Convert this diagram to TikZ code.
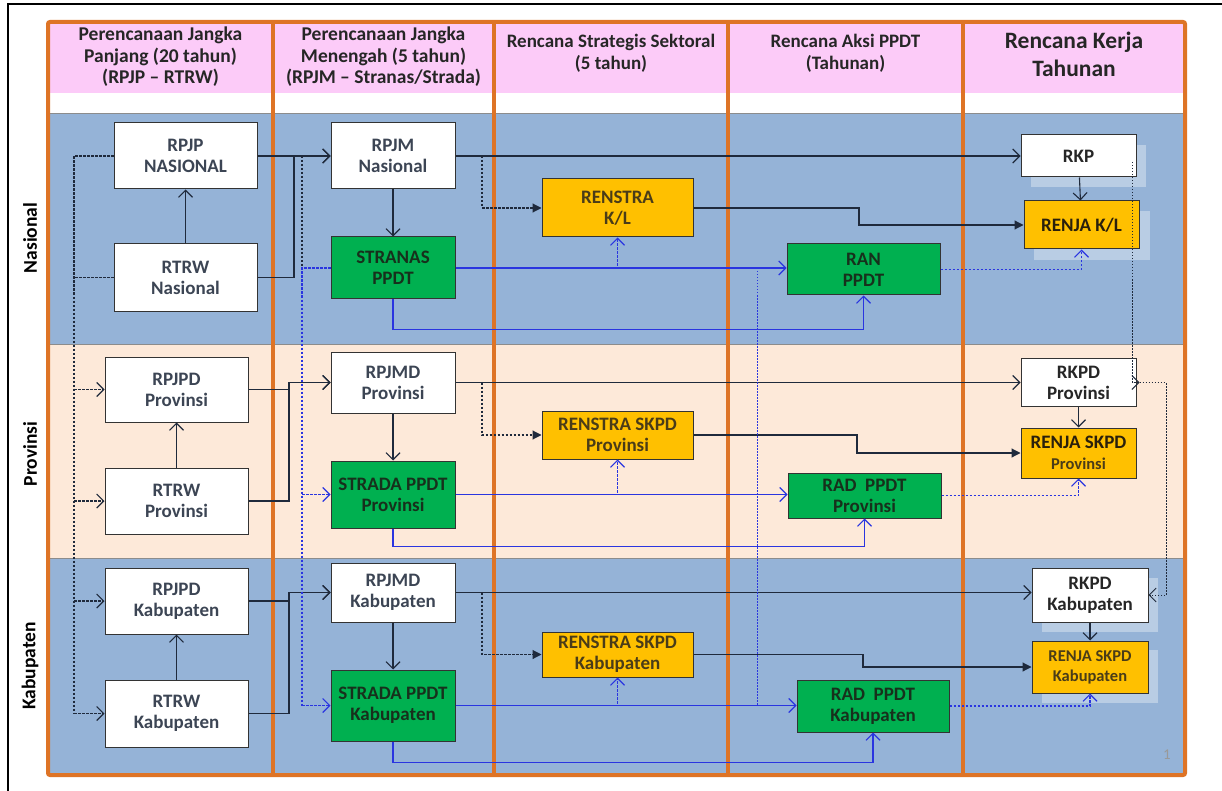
\documentclass[tikz,border=0pt]{standalone}
\usepackage{fontspec}
\setmainfont{Carlito}
\usetikzlibrary{arrows.meta}
\definecolor{rowblue}{HTML}{95B3D7}
\definecolor{rowpeach}{HTML}{FDE9D9}
\definecolor{hdrpink}{HTML}{FCCBF8}
\definecolor{frameor}{HTML}{DE7426}
\definecolor{boxgreen}{HTML}{00B050}
\definecolor{boxgold}{HTML}{FFC000}
\definecolor{lnk}{HTML}{1F2A3C}
\definecolor{lblue}{HTML}{2A35E0}
\definecolor{txtgray}{HTML}{3C4554}
\definecolor{txtgreen}{HTML}{17301C}
\definecolor{txtgold}{HTML}{4A3C18}
\definecolor{txtgold2}{HTML}{2A200C}
\definecolor{hdrtxt}{HTML}{262626}
\begin{document}
\begin{tikzpicture}[x=1pt,y=-1pt,
  box/.style={draw=black!80, line width=1pt, inner sep=1pt, align=center,
    font=\bfseries\fontsize{19}{21}\selectfont, text=txtgray},
  wbox/.style={box, fill=white},
  gbox/.style={box, fill=boxgreen, text=txtgreen},
  ybox/.style={box, fill=boxgold, text=txtgold},
  shbox/.style={fill=white, fill opacity=0.35, draw=none},
  hdr/.style={align=center, text=hdrtxt, font=\bfseries\fontsize{19.5}{21.5}\selectfont},
  rowlbl/.style={rotate=90, text=black, font=\bfseries\fontsize{19.5}{21}\selectfont},
  blk/.style={draw=lnk, line width=1.1pt},
  blu/.style={draw=lblue, line width=1.1pt},
  dsh/.style={dash pattern=on 2.5pt off 1.5pt},
  dots/.style={dash pattern=on 1.5pt off 1.5pt, line width=0.9pt},
  oa/.style={-{Straight Barb[length=7pt,width=14pt]}},
  fa/.style={-{Triangle[length=9pt,width=9pt]}}
]
\useasboundingbox (0,0) rectangle (1222,791);
% outer black frame (top and left)
\draw[line width=1.5pt] (8,791) -- (8,4) -- (1222,4);
% backgrounds
\fill[hdrpink] (48,22) rectangle (1185,93);
\fill[white] (48,93) rectangle (1185,113);
\fill[rowblue] (48,113) rectangle (1185,344);
\fill[rowpeach] (48,344) rectangle (1185,558);
\fill[rowblue] (48,558) rectangle (1185,775);
\draw[line width=0.8pt, draw=black!45] (48,113) -- (1185,113);
\draw[line width=0.8pt, draw=black!45] (48,344) -- (1185,344);
\draw[line width=0.8pt, draw=black!45] (48,558) -- (1185,558);
% orange frame
\draw[frameor, line width=4pt, rounded corners=2pt] (48,22) rectangle (1185,775);
\foreach \cx in {273,494,728,963} \draw[frameor, line width=4pt] (\cx,22) -- (\cx,775);
% headers
\node[hdr] (h1) at (160.5,57) {Perencanaan Jangka\\Panjang (20 tahun)\\(RPJP -- RTRW)};
\node[hdr] (h2) at (383.5,57) {Perencanaan Jangka\\Menengah (5 tahun)\\(RPJM -- Stranas/Strada)};
\node[hdr, font=\bfseries\fontsize{19}{22}\selectfont] (h3) at (611,53) {Rencana Strategis Sektoral\\(5 tahun)};
\node[hdr, font=\bfseries\fontsize{19}{22}\selectfont] (h4) at (845.5,53) {Rencana Aksi PPDT\\(Tahunan)};
\node[hdr, font=\bfseries\fontsize{23.5}{28}\selectfont] (h5) at (1074,54) {Rencana Kerja\\Tahunan};
% row labels
\node[rowlbl] (lnas) at (30,238) {Nasional};
\node[rowlbl] (lprov) at (30,454) {Provinsi};
\node[rowlbl] (lkab) at (30,666) {Kabupaten};
\node[text=black!40, font=\fontsize{15}{15}\selectfont] (pg) at (1167,755) {1};
% shadows in last column
\fill[shbox] (1031,145) rectangle (1146,187);
\fill[shbox] (1034,211) rectangle (1150,260);
\fill[shbox] (1042,578) rectangle (1158,632);
\fill[shbox] (1042,650) rectangle (1158,703);
% column 1
\node[wbox, minimum width=143pt, minimum height=66pt] (rpjp) at (185.5,156) {RPJP\\NASIONAL};
\node[wbox, minimum width=143pt, minimum height=67pt] (rtrwn) at (185.5,277.5) {RTRW\\Nasional};
\node[wbox, minimum width=143pt, minimum height=65pt] (rpjpdp) at (176.5,389.5) {RPJPD\\Provinsi};
\node[wbox, minimum width=143pt, minimum height=66pt] (rtrwp) at (176.5,501) {RTRW\\Provinsi};
\node[wbox, minimum width=143pt, minimum height=66pt] (rpjpdk) at (176.5,601) {RPJPD\\Kabupaten};
\node[wbox, minimum width=143pt, minimum height=67pt] (rtrwk) at (176.5,713.5) {RTRW\\Kabupaten};
% column 2
\node[wbox, minimum width=124pt, minimum height=66pt] (rpjm) at (393,156) {RPJM\\Nasional};
\node[gbox, minimum width=124pt, minimum height=62pt] (stranas) at (393,268) {STRANAS\\PPDT};
\node[wbox, minimum width=124pt, minimum height=61pt] (rpjmdp) at (393,382.5) {RPJMD\\Provinsi};
\node[gbox, minimum width=124pt, minimum height=67pt] (stradap) at (393,494.5) {STRADA PPDT\\Provinsi};
\node[wbox, minimum width=124pt, minimum height=59pt] (rpjmdk) at (393,592.5) {RPJMD\\Kabupaten};
\node[gbox, minimum width=124pt, minimum height=71pt] (stradak) at (393,705.5) {STRADA PPDT\\Kabupaten};
% column 3
\node[ybox, minimum width=151pt, minimum height=58pt] (renstra) at (617.5,208) {RENSTRA\\K/L};
\node[ybox, minimum width=151pt, minimum height=48pt] (renstrap) at (617.5,435) {RENSTRA SKPD\\Provinsi};
\node[ybox, minimum width=151pt, minimum height=45pt] (renstrak) at (617.5,654.5) {RENSTRA SKPD\\Kabupaten};
% column 4
\node[gbox, minimum width=153pt, minimum height=51pt] (ran) at (863.5,269.5) {RAN\\PPDT};
\node[gbox, minimum width=153pt, minimum height=45pt] (radp) at (864.5,495.5) {RAD~~PPDT\\Provinsi};
\node[gbox, minimum width=152pt, minimum height=52pt] (radk) at (873,706) {RAD~~PPDT\\Kabupaten};
% column 5
\node[wbox, text=black!85, minimum width=115pt, minimum height=42pt] (rkp) at (1078.5,156) {RKP};
\node[ybox, text=txtgold2, minimum width=115pt, minimum height=48pt] (renjakl) at (1081.5,225) {RENJA K/L};
\node[wbox, text=black!85, minimum width=115pt, minimum height=48pt] (rkpdp) at (1078.5,382.5) {RKPD\\Provinsi};
\node[ybox, text=txtgold2, minimum width=115pt, minimum height=50pt] (renjap) at (1078.5,453) {RENJA SKPD\\{\fontsize{16.5}{20}\selectfont\color{txtgold}Provinsi}};
\node[wbox, text=black!85, minimum width=116pt, minimum height=54pt] (rkpdk) at (1090,595) {RKPD\\Kabupaten};
\node[ybox, text=txtgold, font=\bfseries\fontsize{16.5}{20}\selectfont, minimum width=116pt, minimum height=52pt] (renjak) at (1090,667) {RENJA SKPD\\Kabupaten};
% helper coordinates
\coordinate (trunk) at (74,0);
\coordinate (elbN) at (294,0);
\coordinate (elbP) at (289,0);
\coordinate (bx) at (302,0);
\coordinate (dx) at (482,0);
\coordinate (stepN) at (859,0);
\coordinate (stepP) at (857,0);
\coordinate (stepK) at (863,0);
\coordinate (vx) at (757,0);
\coordinate (rx) at (1166,0);
% ---- black connectors ----
\draw[blk,dsh] (rpjp.west) -- (trunk |- rpjp.west) -- (trunk |- rtrwk.west);
\draw[blk,dsh] (rtrwn.west) -- (trunk |- rtrwn.west);
\draw[blk,dsh,oa] (trunk |- rpjpdp.west) -- (rpjpdp.west);
\draw[blk,dsh,oa] (trunk |- rtrwp.west) -- (rtrwp.west);
\draw[blk,dsh,oa] (trunk |- rpjpdk.west) -- (rpjpdk.west);
\draw[blk,dsh,oa] (trunk |- rtrwk.west) -- (rtrwk.west);
\draw[blk,oa] (rtrwn) -- (rpjp);
\draw[blk,oa] (rtrwp) -- (rpjpdp);
\draw[blk,oa] (rtrwk) -- (rpjpdk);
\draw[blk,oa] (rpjp.east) -- (rpjm.west);
\draw[blk,oa] (rtrwn.east) -- (elbN |- rtrwn.east) |- (rpjm.west);
\draw[blk,oa] (rpjpdp.east) -- (elbP |- rpjpdp.east) |- (rpjmdp.west);
\draw[blk,oa] (rtrwp.east) -- (elbP |- rtrwp.east) |- (rpjmdp.west);
\draw[blk,oa] (rpjpdk.east) -- (elbP |- rpjpdk.east) |- (rpjmdk.west);
\draw[blk,oa] (rtrwk.east) -- (elbP |- rtrwk.east) |- (rpjmdk.west);
\draw[blk,dsh] (bx |- rpjm.west) -- (bx |- stranas.west);
\draw[blk,oa] (rpjm) -- (stranas);
\draw[blk,oa] (rpjmdp) -- (stradap);
\draw[blk,oa] (rpjmdk) -- (stradak);
\draw[blk,oa] (rpjm.east) -- (rkp.west);
\draw[blk,oa] (rpjmdp.east) -- (rkpdp.west);
\draw[blk,oa] (rpjmdk.east) -- (rkpdk.west |- rpjmdk.east);
\draw[blk,dsh,fa] (dx |- rpjm.east) |- (renstra.west);
\draw[blk,dsh,fa] (dx |- rpjmdp.east) |- (renstrap.west);
\draw[blk,dsh,fa] (dx |- rpjmdk.east) |- (renstrak.west);
\draw[blk,fa] (renstra.east) -- (stepN |- renstra.east) |- (renjakl.west);
\draw[blk,fa] (renstrap.east) -- (stepP |- renstrap.east) |- (renjap.west);
\draw[blk,fa] (renstrak.east) -- (stepK |- renstrak.east) |- (renjak.west);
\draw[blk,oa] (rkp) -- (renjakl);
\draw[blk,oa] (rkpdp) -- (renjap);
\draw[blk,oa] (rkpdk) -- (renjak);
\draw[blk,dots,oa] ([xshift=-4pt,yshift=-6pt]rkp.east) |- ([xshift=3pt]rkpdp.east);
\draw[blk,dots,oa] (rkpdp.east) -- (rx |- rkpdp.east) |- (rkpdk.east);
% ---- blue connectors ----
\draw[blu,dsh] (stranas.west) -- (bx |- stranas.west) -- (bx |- stradak.west);
\draw[blu,dsh,oa] (bx |- stradap.west) -- (stradap.west);
\draw[blu,dsh,oa] (bx |- stradak.west) -- (stradak.west);
\draw[blu,oa] (stranas.east) -- (ran.west |- stranas.east);
\draw[blu,oa] (stradap.east) -- (radp.west |- stradap.east);
\draw[blu,oa] (stradak.east) -- (radk.west |- stradak.east);
\draw[blu,dsh,oa] (stranas.east) -| (renstra.south);
\draw[blu,dsh,oa] (stradap.east) -| (renstrap.south);
\draw[blu,dsh,oa] (stradak.east) -| (renstrak.south);
\draw[blu,oa] (stranas.south) -- ++(0,30) -| (ran.south);
\draw[blu,oa] (stradap.south) -- ++(0,18) -| (radp.south);
\draw[blu,oa] (stradak.south) -- ++(0,21) -| (radk.south);
\draw[blu,dsh,oa] (ran.east) -| (renjakl.south);
\draw[blu,dsh,oa] (radp.east) -| (renjap.south);
\draw[blu,dsh,oa] (radk.east) -| (renjak.south);
\draw[blu,dots] (vx |- stranas.east) -- (vx |- radk.west);
\end{tikzpicture}
\end{document}
